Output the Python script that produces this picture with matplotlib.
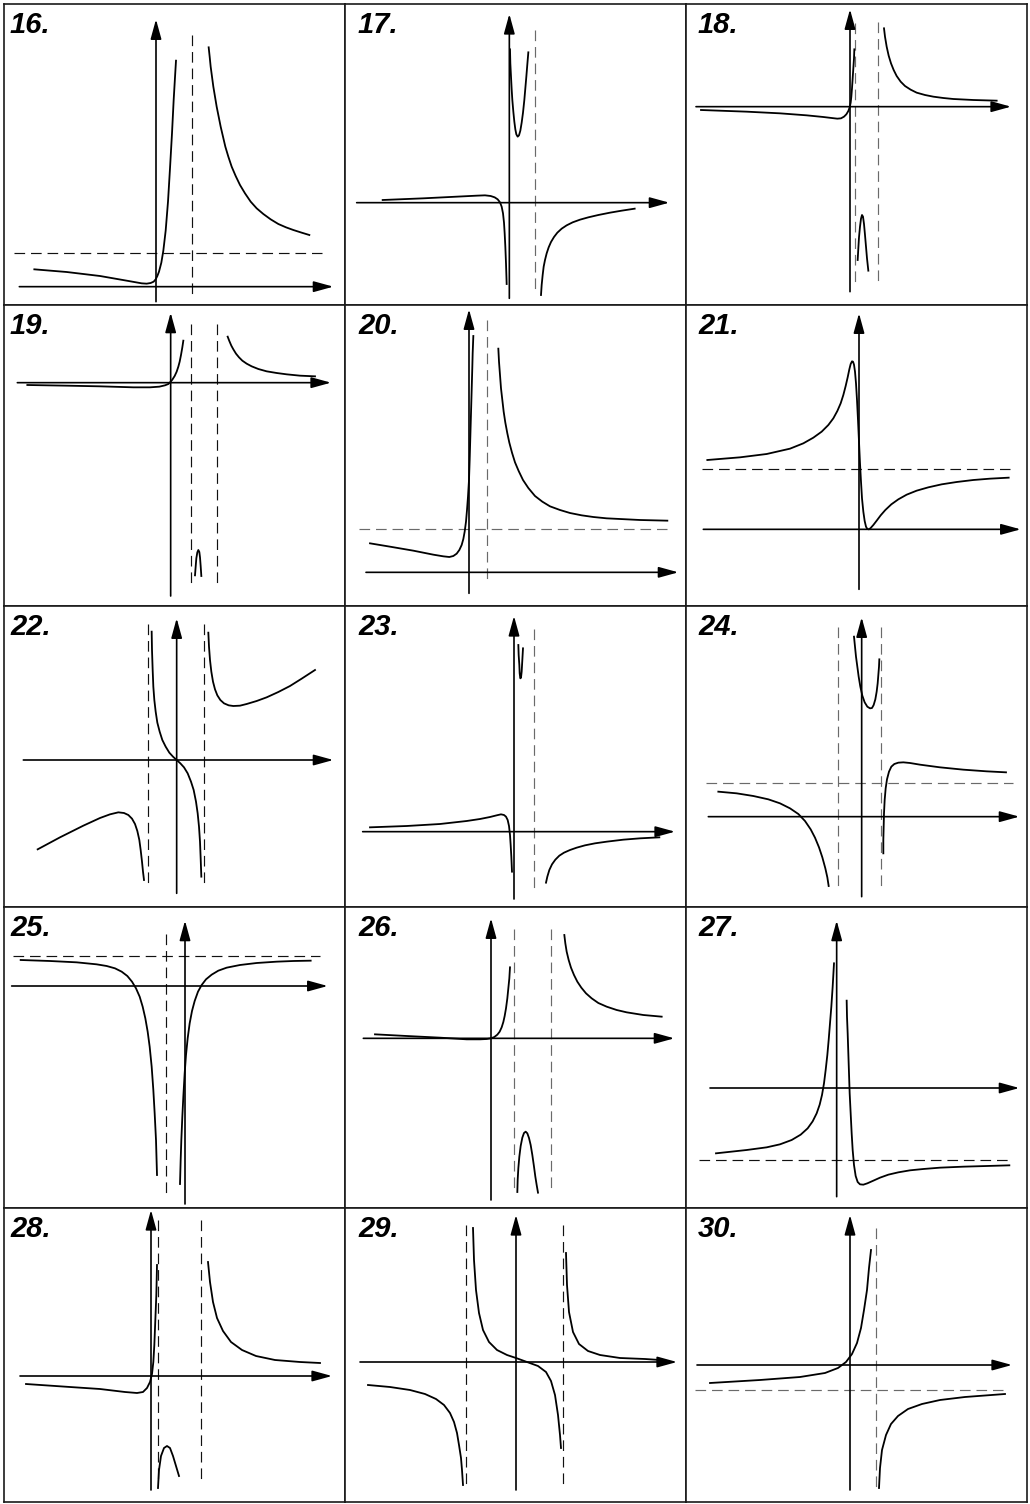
import matplotlib
matplotlib.use("Agg")
import matplotlib.pyplot as plt

W, H = 1030, 1504
# worksheet grid, image pixels
COL_EDGES = [4, 345, 686, 1027]
ROW_EDGES = [4, 305, 606, 907, 1208, 1502]

labels = [f"{n}." for n in range(16, 31)]

# each graph is traced in its own frame: image px * 3, measured from (340*col, 300*row)
# axis = [y-axis x, x-axis y, x-axis from, x-axis to, y-axis from, y-axis to]
# dash = ("v", x, y_from, y_to) or ("h", y, x_from, x_to)

ax16 = [468, 860, 58, 1000, 905, 58]
dash16 = [("v", 575, 105, 890), ("h", 760, 42, 965)]
curve16 = [
    [(103, 808), (200, 816), (300, 828), (380, 842), (425, 850), (440, 851), (452, 849),
     (461, 845), (467, 838), (472, 828), (477, 815), (484, 788), (490, 752), (497, 692),
     (504, 605), (510, 505), (516, 400), (521, 300), (525, 232), (528, 182)],
    [(626, 142), (629, 170), (632, 200), (636, 230), (640, 260), (645, 290), (650, 320),
     (656, 350), (662, 380), (669, 410), (676, 440), (685, 470), (695, 500), (707, 528),
     (720, 555), (735, 580), (752, 605), (770, 625), (790, 642), (812, 658), (835, 672),
     (858, 682), (880, 690), (905, 698), (928, 705)],
]

ax17 = [508, 608, 50, 988, 895, 42]
dash17 = [("v", 585, 90, 875)]
curve17 = [
    [(510, 148), (511, 190), (513, 230), (515, 268), (517, 300), (520, 335), (523, 365),
     (526, 388), (529, 403), (533, 410), (537, 406), (541, 392), (545, 368), (549, 338),
     (553, 300), (556, 265), (559, 230), (562, 193), (565, 157)],
    [(128, 600), (250, 595), (350, 590), (410, 587), (435, 586), (452, 588), (464, 592),
     (473, 598), (480, 607), (485, 620), (489, 640), (492, 668), (494, 700), (496, 740),
     (498, 790), (500, 852)],
    [(603, 885), (605, 855), (608, 825), (611, 800), (615, 780), (620, 760), (626, 742),
     (633, 726), (642, 711), (652, 698), (665, 686), (680, 676), (698, 667), (720, 659),
     (745, 652), (775, 645), (810, 638), (845, 632), (884, 626)],
]

ax18 = [510, 320, 48, 993, 875, 28]
dash18 = [("v", 525, 70, 850), ("v", 595, 65, 850)]
curve18 = [
    [(63, 330), (200, 335), (300, 340), (380, 346), (430, 351), (455, 354), (472, 356),
     (483, 355), (492, 350), (499, 343), (505, 333), (509, 322), (512, 308), (514, 290),
     (516, 265), (518, 235), (520, 205), (522, 175), (523, 148)],
    [(533, 780), (535, 745), (537, 712), (540, 680), (543, 656), (546, 645), (549, 650),
     (552, 672), (555, 705), (558, 740), (561, 775), (565, 812)],
    [(612, 85), (615, 110), (620, 140), (626, 167), (633, 190), (641, 210), (650, 228),
     (662, 245), (675, 258), (692, 269), (710, 278), (735, 285), (760, 290), (790, 294),
     (820, 297), (880, 300), (950, 302)],
]

ax19 = [512, 248, 52, 993, 888, 38]
dash19 = [("v", 572, 72, 858), ("v", 650, 72, 858)]
curve19 = [
    [(82, 255), (200, 257), (300, 259), (400, 262), (450, 262), (478, 260), (495, 256),
     (505, 252), (511, 246), (517, 239), (524, 228), (530, 215), (535, 200), (539, 185),
     (543, 165), (547, 142), (550, 122)],
    [(585, 826), (587, 800), (589, 775), (592, 757), (595, 750), (598, 756), (600, 772),
     (602, 798), (604, 828)],
    [(683, 110), (688, 123), (694, 137), (700, 148), (708, 161), (717, 172), (727, 182),
     (740, 191), (755, 199), (775, 207), (800, 214), (830, 219), (860, 223), (900, 227),
     (945, 229)],
]

ax20 = [387, 817, 78, 1015, 880, 28]
dash20 = [("v", 440, 60, 845), ("h", 688, 58, 980)]
curve20 = [
    [(90, 730), (150, 740), (220, 752), (280, 764), (310, 769), (328, 771), (340, 768),
     (350, 761), (358, 750), (365, 735), (370, 717), (374, 695), (378, 665), (381, 630),
     (384, 590), (387, 540), (389, 480), (391, 410), (393, 340), (395, 270), (397, 200),
     (398, 160), (400, 108)],
    [(475, 146), (477, 185), (480, 225), (483, 265), (487, 300), (491, 335), (496, 368),
     (502, 400), (508, 428), (516, 458), (525, 487), (536, 513), (549, 540), (565, 564),
     (585, 588), (607, 605), (630, 619), (660, 630), (690, 639), (725, 646), (760, 651),
     (800, 655), (840, 657), (900, 660), (982, 662)],
]

ax21 = [537, 688, 70, 1022, 868, 40]
dash21 = [("h", 506, 66, 990)]
curve21 = [
    [(82, 480), (180, 472), (260, 462), (330, 446), (370, 430), (400, 413), (425, 395),
     (445, 375), (460, 355), (472, 333), (482, 310), (490, 285), (497, 258), (503, 232),
     (508, 208), (512, 192), (516, 184), (519, 185), (522, 194), (525, 215), (528, 250),
     (531, 300), (534, 360), (537, 425), (540, 490), (543, 545), (546, 595), (550, 635),
     (554, 663), (558, 680), (562, 687), (567, 688), (572, 684), (580, 675), (590, 662),
     (602, 646), (616, 630), (634, 613), (655, 598), (680, 584), (710, 572), (745, 562),
     (785, 553), (830, 546), (880, 540), (930, 536), (986, 533)],
]

ax22 = [530, 480, 70, 1000, 880, 55]
dash22 = [("v", 445, 72, 858), ("v", 612, 72, 858)]
curve22 = [
    [(113, 748), (180, 712), (250, 677), (300, 654), (330, 643), (355, 637), (372, 639),
     (385, 645), (396, 656), (405, 672), (412, 693), (418, 720), (422, 750), (426, 785),
     (429, 815), (432, 840)],
    [(455, 95), (456, 150), (458, 210), (460, 260), (463, 300), (467, 335), (472, 368),
     (479, 395), (487, 420), (497, 440), (508, 458), (519, 470), (530, 480), (541, 490),
     (552, 502), (563, 520), (573, 545), (581, 570), (588, 605), (593, 640), (597, 680),
     (600, 725), (602, 775), (604, 830)],
    [(625, 98), (627, 140), (630, 180), (634, 215), (639, 245), (645, 268), (652, 286),
     (661, 300), (672, 310), (686, 316), (700, 318), (720, 317), (740, 312), (770, 303),
     (800, 292), (835, 276), (870, 258), (905, 236), (945, 210)],
]

ax23 = [522, 695, 68, 1005, 897, 48]
dash23 = [("v", 582, 88, 870)]
curve23 = [
    [(535, 135), (536, 165), (538, 195), (539, 220), (541, 235), (543, 233), (545, 215),
     (547, 180), (549, 145)],
    [(90, 682), (200, 678), (300, 672), (380, 663), (420, 657), (450, 651), (470, 646),
     (483, 643), (492, 645), (498, 650), (503, 660), (507, 678), (510, 705), (512, 735),
     (514, 770), (516, 815)],
    [(618, 848), (622, 830), (628, 810), (636, 793), (646, 779), (658, 767), (672, 758),
     (690, 750), (710, 743), (735, 736), (765, 730), (800, 725), (850, 719), (900, 715),
     (958, 712)],
]

ax24 = [545, 650, 85, 1018, 890, 52]
dash24 = [("v", 473, 82, 865), ("v", 603, 82, 865), ("h", 548, 78, 1000)]
curve24 = [
    [(115, 575), (170, 580), (220, 588), (265, 598), (300, 610), (330, 625), (355, 642),
     (375, 663), (392, 688), (405, 713), (417, 742), (427, 772), (436, 805), (442, 832),
     (446, 858)],
    [(522, 110), (525, 140), (528, 170), (532, 200), (536, 230), (541, 260), (547, 287),
     (554, 307), (562, 320), (570, 325), (576, 324), (581, 315), (586, 298), (590, 275),
     (593, 250), (595, 225), (597, 200), (598, 178)],
    [(610, 760), (610, 720), (611, 680), (612, 640), (614, 600), (617, 565), (621, 538),
     (627, 515), (634, 500), (643, 492), (655, 488), (670, 487), (690, 489), (720, 494),
     (780, 502), (850, 509), (920, 514), (978, 517)],
]

ax25 = [555, 258, 35, 983, 912, 62]
dash25 = [("v", 498, 102, 890), ("h", 168, 40, 960)]
curve25 = [
    [(62, 180), (150, 183), (230, 187), (290, 193), (320, 198), (345, 205), (365, 215),
     (382, 228), (396, 245), (408, 265), (419, 290), (428, 320), (436, 355), (443, 395),
     (449, 440), (455, 500), (460, 570), (464, 640), (468, 720), (471, 825)],
    [(540, 852), (542, 780), (544, 720), (547, 650), (550, 590), (554, 520), (558, 465),
     (563, 415), (569, 370), (576, 333), (584, 303), (594, 275), (605, 255), (618, 238),
     (635, 224), (655, 212), (680, 203), (720, 195), (770, 189), (830, 185), (880, 183),
     (932, 182)],
]

ax26 = [453, 415, 70, 1003, 900, 55]
dash26 = [("v", 522, 88, 875), ("v", 632, 88, 870)]
curve26 = [
    [(105, 403), (200, 408), (300, 413), (380, 418), (420, 418), (440, 417), (453, 415),
     (463, 411), (472, 404), (479, 395), (485, 382), (490, 366), (494, 348), (498, 325),
     (502, 295), (505, 265), (508, 235), (510, 202)],
    [(532, 876), (533, 840), (535, 805), (538, 770), (542, 738), (547, 713), (552, 699),
     (557, 695), (562, 700), (567, 714), (572, 735), (577, 765), (582, 800), (586, 830),
     (590, 855), (594, 878)],
    [(673, 105), (676, 130), (680, 155), (686, 180), (693, 203), (702, 225), (712, 245),
     (724, 263), (738, 280), (755, 295), (775, 309), (800, 320), (830, 330), (860, 337),
     (910, 345), (965, 350)],
]

ax27 = [470, 564, 90, 1018, 890, 62]
dash27 = [("h", 780, 58, 985)]
curve27 = [
    [(108, 760), (200, 750), (260, 742), (300, 733), (335, 720), (362, 704), (383, 685),
     (398, 664), (410, 640), (419, 614), (426, 585), (432, 550), (437, 510), (442, 465),
     (446, 420), (450, 370), (454, 320), (458, 260), (462, 190)],
    [(500, 302), (501, 350), (503, 400), (505, 460), (507, 520), (509, 580), (512, 640),
     (515, 700), (518, 750), (522, 795), (527, 828), (533, 846), (540, 853), (550, 854),
     (562, 850), (580, 842), (600, 833), (625, 824), (655, 817), (690, 811), (730, 807),
     (780, 803), (850, 800), (920, 798), (988, 796)],
]

ax28 = [453, 528, 60, 996, 870, 30]
dash28 = [("v", 474, 60, 840), ("v", 603, 60, 840)]
curve28 = [
    [(78, 552), (210, 561), (300, 567), (375, 576), (411, 579), (429, 576), (441, 564),
     (450, 546), (456, 522), (460, 486), (463, 435), (466, 360), (469, 285), (471, 195)],
    [(474, 864), (477, 810), (483, 768), (492, 744), (501, 738), (510, 744), (519, 768),
     (528, 798), (537, 828)],
    [(624, 186), (630, 246), (639, 306), (651, 354), (669, 393), (693, 426), (726, 450),
     (768, 468), (825, 480), (900, 486), (960, 489)],
]

ax29 = [528, 486, 60, 1011, 870, 45]
dash29 = [("v", 378, 75, 855), ("v", 669, 75, 855)]
curve29 = [
    [(84, 555), (150, 561), (210, 570), (255, 582), (288, 597), (312, 615), (330, 639),
     (342, 666), (351, 699), (357, 735), (363, 774), (366, 810), (369, 855)],
    [(399, 84), (402, 180), (408, 270), (417, 339), (429, 390), (447, 426), (471, 450),
     (501, 465), (528, 474), (561, 486), (594, 498), (618, 516), (633, 543), (645, 585),
     (654, 645), (660, 705), (663, 744)],
    [(678, 159), (681, 255), (687, 336), (699, 396), (717, 432), (744, 453), (780, 465),
     (840, 474), (915, 477), (960, 480)],
]

ax30 = [510, 495, 51, 996, 870, 45]
dash30 = [("v", 588, 84, 864), ("h", 570, 45, 969)]
curve30 = [
    [(90, 549), (240, 540), (360, 531), (435, 519), (474, 504), (498, 486), (516, 462),
     (531, 429), (543, 384), (552, 330), (561, 270), (567, 204), (573, 150)],
    [(597, 864), (600, 804), (606, 750), (618, 705), (633, 672), (654, 648), (684, 627),
     (726, 612), (780, 600), (855, 591), (975, 582)],
]

GRAY_DASH = {"17.", "18.", "20.", "23.", "24.", "26.", "30."}

panels = [
    (ax16, dash16, curve16), (ax17, dash17, curve17), (ax18, dash18, curve18),
    (ax19, dash19, curve19), (ax20, dash20, curve20), (ax21, dash21, curve21),
    (ax22, dash22, curve22), (ax23, dash23, curve23), (ax24, dash24, curve24),
    (ax25, dash25, curve25), (ax26, dash26, curve26), (ax27, dash27, curve27),
    (ax28, dash28, curve28), (ax29, dash29, curve29), (ax30, dash30, curve30),
]

LABEL_X = [10, 358, 698]  # image px, left of the number

fig = plt.figure(figsize=(W / 100, H / 100), dpi=100)
fig.patch.set_facecolor("white")

arrow = dict(arrowstyle="-|>,head_length=0.8,head_width=0.22", mutation_scale=15,
             lw=1.2, color="black", shrinkA=0, shrinkB=0)

for k, (axis, dashes, curves) in enumerate(panels):
    r, c = divmod(k, 3)
    ox, oy = 340 * c, 300 * r
    x0, x1 = COL_EDGES[c], COL_EDGES[c + 1]
    y0, y1 = ROW_EDGES[r], ROW_EDGES[r + 1]
    ax = fig.add_axes([x0 / W, 1 - y1 / H, (x1 - x0) / W, (y1 - y0) / H])
    ax.set_xlim((x0 - ox) * 3, (x1 - ox) * 3)
    ax.set_ylim((y1 - oy) * 3, (y0 - oy) * 3)
    ax.set_xticks([]); ax.set_yticks([])
    for s in ax.spines.values():
        s.set_linewidth(1.2); s.set_color("#1a1a1a")

    dc = "#6a6a6a" if labels[k] in GRAY_DASH else "#111111"
    for kind, p, a, b in dashes:
        xs, ys = ([p, p], [a, b]) if kind == "v" else ([a, b], [p, p])
        ax.plot(xs, ys, color=dc, lw=0.85, linestyle=(0, (9, 5)))

    yx, xy, xa, xb, ya, yb = axis
    ax.annotate("", xy=(xb, xy), xytext=(xa, xy), arrowprops=arrow)
    ax.annotate("", xy=(yx, yb), xytext=(yx, ya), arrowprops=arrow)

    for br in curves:
        xs, ys = zip(*br)
        ax.plot(xs, ys, color="black", lw=1.3, solid_joinstyle="round")

    ax.text((LABEL_X[c] - ox) * 3, (y0 + 29 - oy) * 3, labels[k], ha="left", va="baseline",
            fontsize=21, fontweight="bold", fontstyle="italic", family="Liberation Sans")

fig.savefig("out.png", dpi=100, facecolor="white")
